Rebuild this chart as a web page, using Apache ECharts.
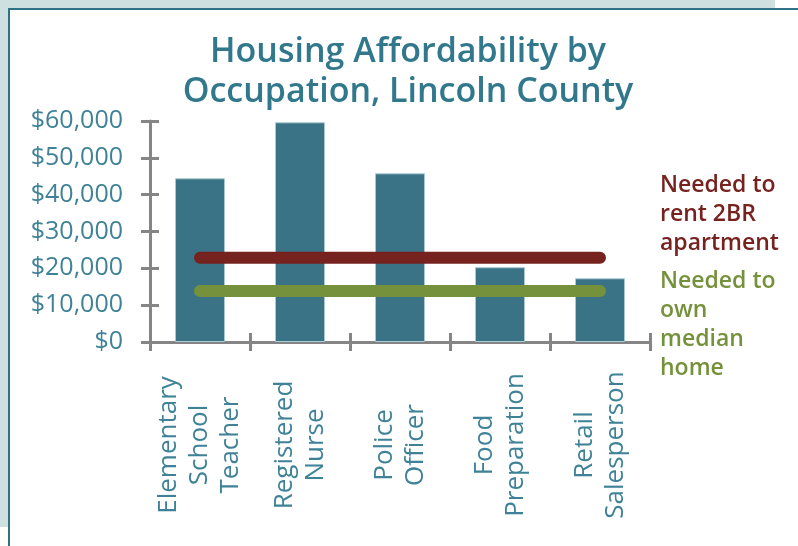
<!DOCTYPE html>
<html>
<head>
<meta charset="utf-8">
<script src="https://cdn.jsdelivr.net/npm/echarts@6/dist/echarts.min.js"></script>
<style>
html,body{margin:0;padding:0;background:#ffffff;}
#chart{width:798px;height:546px;}
</style>
</head>
<body>
<div id="chart"></div>
<script>
var titleText = 'Housing Affordability by\nOccupation, Lincoln County';
var categories = ['Elementary\nSchool\nTeacher', 'Registered\nNurse', 'Police\nOfficer', 'Food\nPreparation', 'Retail\nSalesperson'];
var salaries = [44450, 59650, 45800, 20300, 17300];
var rentNeeded = [22900, 22900, 22900, 22900, 22900];
var ownNeeded = [13850, 13850, 13850, 13850, 13850];
var rentLabel = 'Needed to\nrent 2BR\napartment';
var ownLabel = 'Needed to\nown\nmedian\nhome';
var yMin = 0, yMax = 60000, yStep = 10000;

var axisGray = '#858585';
var labelColor = '#3f8298';
var font = '"Open Sans", "DejaVu Sans", sans-serif';

var chart = echarts.init(document.getElementById('chart'), null, {renderer: 'canvas'});
chart.setOption({
  animation: false,
  backgroundColor: '#ffffff',
  grid: {left: 150, right: 148, top: 121, bottom: 204, containLabel: false},
  xAxis: [{
    type: 'category',
    data: categories,
    position: 'bottom',
    axisLine: {show: true, lineStyle: {color: axisGray, width: 3}},
    axisTick: {show: true, inside: false, length: 9, lineStyle: {color: axisGray, width: 3}},
    axisLabel: {
      interval: 0, rotate: 90, align: 'center', verticalAlign: 'middle', margin: 103,
      color: labelColor, fontSize: 26, fontFamily: font, lineHeight: 31
    },
    splitLine: {show: false}
  }, {
    type: 'category',
    data: categories,
    position: 'bottom',
    axisLine: {show: false},
    axisTick: {show: true, inside: true, length: 9, lineStyle: {color: axisGray, width: 3}},
    axisLabel: {show: false},
    splitLine: {show: false}
  }],
  yAxis: [{
    type: 'value',
    min: yMin, max: yMax, interval: yStep,
    axisLine: {show: true, lineStyle: {color: axisGray, width: 3}},
    axisTick: {show: true, inside: false, length: 9, lineStyle: {color: axisGray, width: 3}},
    axisLabel: {
      margin: 27, color: labelColor, fontSize: 25, fontFamily: font,
      formatter: function (v) { return '$' + v.toLocaleString('en-US'); }
    },
    splitLine: {show: false}
  }, {
    type: 'value',
    position: 'left',
    min: yMin, max: yMax, interval: yStep,
    axisLine: {show: false},
    axisTick: {show: true, inside: true, length: 9, lineStyle: {color: axisGray, width: 3}},
    axisLabel: {show: false},
    splitLine: {show: false}
  }],
  series: [{
    type: 'bar',
    data: salaries,
    barWidth: '50%',
    itemStyle: {color: '#3a7386', borderColor: '#a9c9d3', borderWidth: 1},
    z: 2
  }, {
    type: 'line',
    data: rentNeeded,
    symbol: 'none',
    lineStyle: {color: '#76221f', width: 12, cap: 'round'},
    z: 3
  }, {
    type: 'line',
    data: ownNeeded,
    symbol: 'none',
    lineStyle: {color: '#76913b', width: 12, cap: 'round'},
    z: 3
  }],
  graphic: [
    {type: 'rect', z: -10, silent: true, shape: {x: 0, y: 0, width: 775, height: 9}, style: {fill: '#cfe0e0'}},
    {type: 'rect', z: -10, silent: true, shape: {x: 0, y: 0, width: 8, height: 527}, style: {fill: '#cfe0e0'}},
    {type: 'rect', z: -9, silent: true, shape: {x: 8, y: 8, width: 790, height: 2}, style: {fill: '#2e7385'}},
    {type: 'rect', z: -9, silent: true, shape: {x: 8, y: 8, width: 2, height: 538}, style: {fill: '#2e7385'}},
    {type: 'text', x: 408, y: 32, style: {text: titleText, fill: '#31788c', font: '600 34px ' + font, lineHeight: 40, align: 'center', verticalAlign: 'top'}},
    {type: 'text', left: 660, top: 171, style: {text: rentLabel, fill: '#76221f', font: '600 23px ' + font, lineHeight: 29}},
    {type: 'text', left: 660, top: 267, style: {text: ownLabel, fill: '#76913b', font: '600 23px ' + font, lineHeight: 29}}
  ]
});
</script>
</body>
</html>
